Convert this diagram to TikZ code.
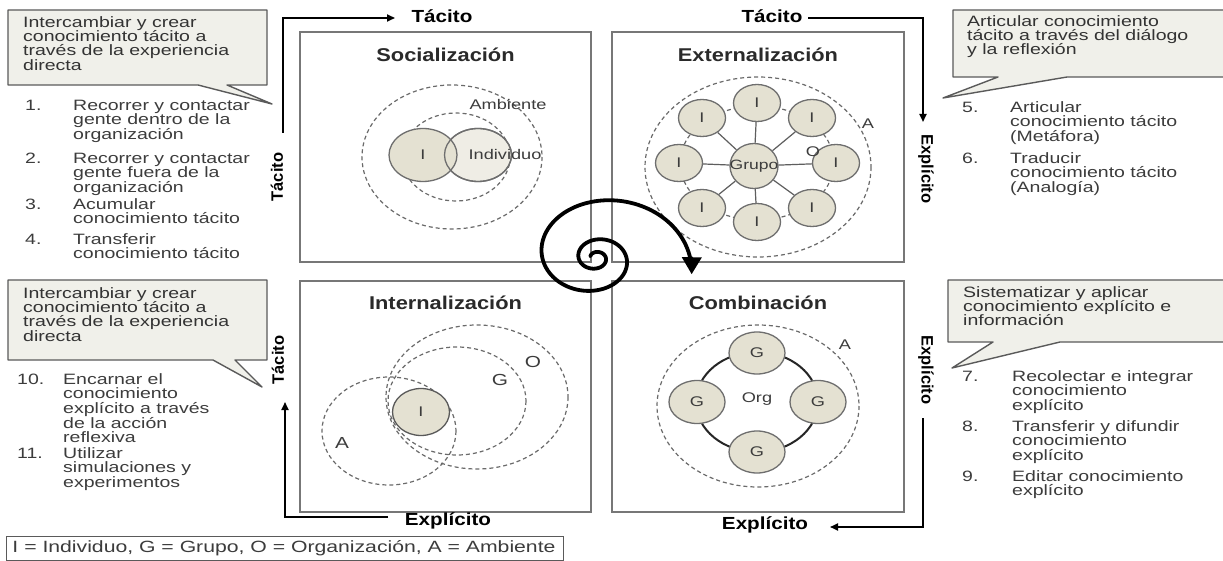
\documentclass[tikz,border=0pt]{standalone}
\usepackage{fontspec}
\setmainfont{Liberation Sans}[FakeStretch=1.3]
\newfontfamily\ttlfont{Liberation Sans}[FakeStretch=1.18]
\newfontfamily\vfont{Liberation Sans}
\usetikzlibrary{arrows.meta,shapes.geometric}

\definecolor{boxgray}{HTML}{777777}
\definecolor{txtgray}{HTML}{3C3C3C}
\definecolor{caltxt}{HTML}{333333}
\definecolor{calfill}{HTML}{F0F0EA}
\definecolor{calborder}{HTML}{5A5A5A}
\definecolor{ttlcol}{HTML}{2A2A2A}
\definecolor{beige}{HTML}{E4E1D2}
\definecolor{beigelt}{HTML}{EFEDE5}
\definecolor{blobborder}{HTML}{6E6E6E}
\definecolor{dashgray}{HTML}{6A6A6A}
\definecolor{spokegray}{HTML}{5E5E5E}

% first-line strut so that list nodes can be placed by their top edge
\newcommand\fl{\rule{0pt}{13pt}}

\begin{document}
\lineskiplimit=-30pt
\begin{tikzpicture}[x=1pt,y=-1pt,
  qbox/.style={draw=boxgray, line width=1.6pt},
  ttl/.style={font=\ttlfont\bfseries\fontsize{18.5}{20}\selectfont, text=ttlcol, anchor=base, inner sep=0pt},
  axlab/.style={font=\ttlfont\bfseries\fontsize{17.5}{20}\selectfont, anchor=base, inner sep=0pt},
  vlab/.style={font=\vfont\bfseries\fontsize{16.5}{18}\selectfont, inner sep=0pt},
  axis/.style={line width=1.8pt, -{Triangle[length=8pt,width=7pt]}},
  lst/.style={font=\fontsize{15}{14.6}\selectfont, text=txtgray, align=left, anchor=north west, inner sep=0pt},
  calt/.style={lst, text=caltxt, font=\fontsize{15}{14.3}\selectfont},
  callout/.style={fill=calfill, draw=calborder, line width=1.4pt, line join=round},
  dsh/.style={draw=dashgray, line width=1.2pt, dash pattern=on 4pt off 3pt},
  blob/.style={ellipse, draw=blobborder, line width=1.3pt, fill=beige, inner sep=0pt, font=\fontsize{14}{16}\selectfont, text=txtgray},
  rim/.style={ellipse, draw=blobborder, line width=1.3pt, inner sep=0pt},
  lbl/.style={font=\fontsize{14}{16}\selectfont, text=txtgray, inner sep=0pt},
  biglbl/.style={font=\fontsize{16}{18}\selectfont, text=txtgray, inner sep=0pt},
  spoke/.style={draw=spokegray, line width=1.2pt},
  ring/.style={line width=2pt, draw=black!85},
  spiralarrow/.style={line width=3.8pt, line cap=round, -{Triangle[length=17pt,width=19pt]}},
]
\useasboundingbox (0,0) rectangle (1223,561);
\fill[white] (0,0) rectangle (1223,561);

% ---------- callouts ----------
\draw[callout] (8,10) -- (267,10) -- (267,85) -- (227,85) -- (272,104) -- (198,85) -- (8,85) -- cycle;
\draw[callout] (953,10) -- (1228,10) -- (1228,77) -- (1067,77) -- (943,98) -- (998,77) -- (953,77) -- cycle;
\draw[callout] (8,280) -- (267,280) -- (267,360) -- (235,360) -- (262,387) -- (213,360) -- (8,360) -- cycle;
\draw[callout] (948,280) -- (1228,280) -- (1228,342) -- (1060,342) -- (952,368) -- (993,342) -- (948,342) -- cycle;

\node[calt] (cTL) at (23,14) {\fl Intercambiar y crear\\conocimiento tácito a\\través de la experiencia\\directa};
\node[calt] (cTR) at (967,13) {\fl Articular conocimiento\\tácito a través del diálogo\\y la reflexión};
\node[calt] (cBL) at (23,285) {\fl Intercambiar y crear\\conocimiento tácito a\\través de la experiencia\\directa};
\node[calt] (cBR) at (963,284) {\fl Sistematizar y aplicar\\conocimiento explícito e\\información};

% ---------- lists ----------
\node[lst] (n1) at (25,97) {\fl 1.};
\node[lst] (l1) at (73,97) {\fl Recorrer y contactar\\gente dentro de la\\organización};
\node[lst] (n2) at (25,150) {\fl 2.};
\node[lst] (l2) at (73,150) {\fl Recorrer y contactar\\gente fuera de la\\organización};
\node[lst] (n3) at (25,196) {\fl 3.};
\node[lst] (l3) at (73,196) {\fl Acumular\\conocimiento tácito};
\node[lst] (n4) at (25,231) {\fl 4.};
\node[lst] (l4) at (73,231) {\fl Transferir\\conocimiento tácito};

\node[lst] (n5) at (962,99) {\fl 5.};
\node[lst] (l5) at (1010,99) {\fl Articular\\conocimiento tácito\\(Metáfora)};
\node[lst] (n6) at (962,150) {\fl 6.};
\node[lst] (l6) at (1010,150) {\fl Traducir\\conocimiento tácito\\(Analogía)};

\node[lst] (n10) at (17,371) {\fl 10.};
\node[lst] (l10) at (63,371) {\fl Encarnar el\\conocimiento\\explícito a través\\de la acción\\reflexiva};
\node[lst] (n11) at (17,445) {\fl 11.};
\node[lst] (l11) at (63,445) {\fl Utilizar\\simulaciones y\\experimentos};

\node[lst] (n7) at (962,368) {\fl 7.};
\node[lst] (l7) at (1012,368) {\fl Recolectar e integrar\\conocimiento\\explícito};
\node[lst] (n8) at (962,418) {\fl 8.};
\node[lst] (l8) at (1012,418) {\fl Transferir y difundir\\conocimiento\\explícito};
\node[lst] (n9) at (962,468) {\fl 9.};
\node[lst] (l9) at (1012,468) {\fl Editar conocimiento\\explícito};

% ---------- quadrant frames and titles ----------
\draw[qbox] (300,32) rectangle (591,262);
\draw[qbox] (612,32) rectangle (904,262);
\draw[qbox] (300,281) rectangle (591,512);
\draw[qbox] (612,281) rectangle (904,512);

\node[ttl] (tSoc) at (445.5,62) {Socialización};
\node[ttl] (tExt) at (758,62) {Externalización};
\node[ttl] (tInt) at (445.5,309) {Internalización};
\node[ttl] (tCom) at (758,309) {Combinación};

% ---------- Socialización ----------
\draw[dsh] (452,157) ellipse [x radius=90, y radius=72];
\draw[dsh] (456,157) ellipse [x radius=54, y radius=44];
\node[blob, fill=beigelt, minimum width=67pt, minimum height=53pt] (sInd) at (478,155) {};
\node[blob, minimum width=68pt, minimum height=53pt] (sI) at (423,155) {\makebox[0pt]{I}};
\node[rim, minimum width=67pt, minimum height=53pt] (sIndRim) at (sInd.center) {};
\node[lbl] (sIndLab) at (505,154) {Individuo};
\node[lbl] (sAmb) at (508,104) {Ambiente};

% ---------- Externalización ----------
\draw[dsh] (758,167) ellipse [x radius=113, y radius=90];
\draw[dsh] (757,163) ellipse [x radius=77, y radius=57];
\node[blob, minimum width=48pt, minimum height=45pt, font=\fontsize{13.5}{15}\selectfont] (grp) at (754,166) {\makebox[0pt]{Grupo}};
\foreach \nm/\px/\py in {e1/757/103, e2/812/118, e3/836/163, e4/812/208, e5/757/222, e6/702/208, e7/679/163, e8/702/118}{
  \node[blob, minimum width=47pt, minimum height=37pt] (\nm) at (\px,\py) {\makebox[0pt]{I}};
  \draw[spoke] (grp) -- (\nm);
}
\node[lbl] (eA) at (868,124) {A};
\node[lbl] (eO) at (813,152) {O};

% ---------- Internalización ----------
\draw[dsh] (389,431) ellipse [x radius=67, y radius=54];
\draw[dsh] (457,401) ellipse [x radius=69, y radius=54];
\draw[dsh] (477,397) ellipse [x radius=91, y radius=72];
\node[blob, draw=black!65, minimum width=57pt, minimum height=47pt] (iI) at (421,412) {\makebox[0pt]{I}};
\node[biglbl] (iA) at (342,443) {A};
\node[biglbl] (iG) at (500,380) {G};
\node[biglbl] (iO) at (533,362) {O};

% ---------- Combinación ----------
\draw[dsh] (758,406) ellipse [x radius=101, y radius=81];
\draw[ring] (757,402) ellipse [x radius=61, y radius=50];
\node[blob, minimum width=56pt, minimum height=42pt] (g1) at (757,353) {\makebox[0pt]{G}};
\node[blob, minimum width=56pt, minimum height=43pt] (g2) at (697,402) {\makebox[0pt]{G}};
\node[blob, minimum width=56pt, minimum height=43pt] (g3) at (818,402) {\makebox[0pt]{G}};
\node[blob, minimum width=56pt, minimum height=42pt] (g4) at (757,452) {\makebox[0pt]{G}};
\node[lbl] (cOrg) at (757,399) {Org};
\node[lbl] (cA) at (845,345) {A};

% ---------- axes ----------
\node[axlab] (axTL) at (442,23) {Tácito};
\node[axlab] (axTR) at (772,23) {Tácito};
\node[axlab] (axBL) at (448,525) {Explícito};
\node[axlab] (axBR) at (765,529) {Explícito};
\node[vlab, rotate=90] (vTLu) at (277,177) {Tácito};
\node[vlab, rotate=90] (vTLd) at (278,360) {Tácito};
\node[vlab, rotate=-90] (vRu) at (926,169) {Explícito};
\node[vlab, rotate=-90] (vRd) at (926,370) {Explícito};

\coordinate (aTLs) at (283,133); \coordinate (aTLe) at (395,18);
\coordinate (aTRs) at (808,18);  \coordinate (aTRe) at (923,122);
\coordinate (aBRs) at (923,418); \coordinate (aBRe) at (830,527);
\coordinate (aBLs) at (388,517); \coordinate (aBLe) at (285,402);
\draw[axis] (aTLs) |- (aTLe);
\draw[axis] (aTRs) -| (aTRe);
\draw[axis] (aBRs) |- (aBRe);
\draw[axis] (aBLs) -| (aBLe);

% ---------- central spiral (logarithmic, turning clockwise outwards) ----------
\draw[spiralarrow] plot[domain=200:1092, samples=320, variable=\t]
  ({596+1.25*2.57*exp(0.003127*\t)*cos(\t)}, {258+2.57*exp(0.003127*\t)*sin(\t)});

% ---------- legend ----------
\node[draw=calborder, line width=1pt, anchor=north west, minimum width=557pt, minimum height=24pt,
      inner sep=0pt, font=\fontsize{16.3}{18}\selectfont, text=txtgray] (legend) at (6,536)
  {\makebox[545pt][l]{I = Individuo, G = Grupo, O = Organización, A = Ambiente}};
\end{tikzpicture}
\end{document}
